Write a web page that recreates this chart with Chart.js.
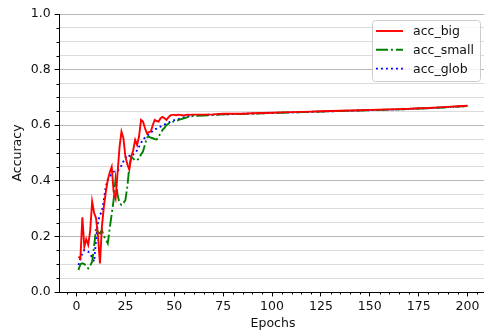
<!DOCTYPE html>
<html>
<head>
<meta charset="utf-8">
<script src="https://cdn.jsdelivr.net/npm/chart.js@4"></script>
<style>
    html, body { margin: 0; padding: 0; background: #fff; overflow: hidden; }
    canvas { display: block; }
</style>
</head>
<body>
<canvas id="accChart" width="487" height="333"></canvas>
<script>
// Accuracy per epoch
const epochs = [
    1, 2, 3, 4, 5, 6, 7, 8, 9, 10,
    11, 12, 13, 14, 15, 16, 17, 18, 19, 20,
    21, 22, 23, 24, 25, 26, 27, 28, 29, 30,
    31, 32, 33, 34, 35, 36, 37, 38, 39, 40,
    41, 42, 43, 44, 45, 46, 47, 48, 49, 50,
    51, 52, 53, 54, 55, 56, 57, 58, 59, 60,
    65, 70, 75, 80, 85, 90, 95, 100, 105, 110, 115, 120, 125, 130,
    135, 140, 145, 150, 155, 160, 165, 170, 175, 180, 185, 190, 195, 200
];

const accBig = [
    0.127, 0.120, 0.269, 0.163, 0.190, 0.170, 0.220, 0.325, 0.285, 0.265,
    0.200, 0.103, 0.235, 0.307, 0.360, 0.403, 0.430, 0.450, 0.360, 0.337,
    0.427, 0.520, 0.577, 0.553, 0.487, 0.460, 0.440, 0.487, 0.510, 0.547,
    0.529, 0.560, 0.619, 0.613, 0.590, 0.571, 0.575, 0.577, 0.600, 0.619,
    0.615, 0.613, 0.625, 0.630, 0.625, 0.619, 0.628, 0.635, 0.637, 0.637,
    0.636, 0.638, 0.637, 0.636, 0.635, 0.637, 0.638, 0.637, 0.638, 0.638,
    0.638, 0.639, 0.641, 0.641, 0.641, 0.643, 0.644, 0.645, 0.646, 0.647, 0.648, 0.649, 0.650, 0.651,
    0.652, 0.653, 0.654, 0.655, 0.656, 0.657, 0.658, 0.659, 0.661, 0.662, 0.664, 0.666, 0.668, 0.670
];

const accSmall = [
    0.079, 0.100, 0.103, 0.100, 0.095, 0.085, 0.095, 0.109, 0.163, 0.229,
    0.215, 0.211, 0.223, 0.200, 0.190, 0.175, 0.230, 0.280, 0.331, 0.409,
    0.350, 0.320, 0.313, 0.320, 0.330, 0.379, 0.450, 0.487, 0.480, 0.473,
    0.475, 0.480, 0.495, 0.505, 0.530, 0.555, 0.559, 0.555, 0.553, 0.550,
    0.549, 0.560, 0.570, 0.583, 0.590, 0.601, 0.605, 0.610, 0.612, 0.613,
    0.615, 0.618, 0.621, 0.623, 0.625, 0.627, 0.629, 0.631, 0.632, 0.633,
    0.635, 0.637, 0.639, 0.640, 0.640, 0.642, 0.643, 0.644, 0.645, 0.646, 0.647, 0.648, 0.649, 0.650,
    0.651, 0.652, 0.653, 0.654, 0.655, 0.656, 0.657, 0.658, 0.660, 0.661, 0.663, 0.665, 0.667, 0.669
];

const accGlob = [
    0.097, 0.120, 0.139, 0.151, 0.150, 0.145, 0.135, 0.125, 0.109, 0.187,
    0.253, 0.277, 0.290, 0.330, 0.380, 0.403, 0.415, 0.425, 0.433, 0.433,
    0.435, 0.445, 0.455, 0.470, 0.480, 0.493, 0.490, 0.487, 0.495, 0.500,
    0.510, 0.523, 0.535, 0.550, 0.555, 0.562, 0.567, 0.573, 0.580, 0.585,
    0.588, 0.592, 0.595, 0.598, 0.602, 0.606, 0.609, 0.612, 0.615, 0.618,
    0.620, 0.622, 0.624, 0.626, 0.628, 0.630, 0.632, 0.634, 0.636, 0.637,
    0.637, 0.638, 0.639, 0.640, 0.641, 0.642, 0.643, 0.644, 0.645, 0.646, 0.647, 0.648, 0.649, 0.650,
    0.651, 0.652, 0.653, 0.654, 0.655, 0.656, 0.657, 0.658, 0.660, 0.661, 0.663, 0.665, 0.667, 0.669
];

const seriesNames = ['acc_big', 'acc_small', 'acc_glob'];
const yTickStep = 0.05;   // minor grid, labels every 0.2
const xTickStep = 5;      // minor ticks, labels every 25

const FONT = { family: '"DejaVu Sans", sans-serif', size: 12.5 };
const MINOR_TICK = 2.5;

function toPoints(values) {
    return epochs.map((e, i) => ({ x: e, y: values[i] }));
}

function isMajorY(v) {
    return Math.round(v / yTickStep) % 4 === 0;
}

function isMajorX(v) {
    return v % 25 === 0;
}

// Short minor ticks (the library only has one tick length per axis)
const minorTicks = {
    id: 'minorTicks',
    afterDraw(chart) {
        const { ctx, scales: { x, y } } = chart;
        ctx.save();
        ctx.strokeStyle = '#000';
        ctx.lineWidth = 1;
        ctx.beginPath();
        x.ticks.forEach(t => {
            if (isMajorX(t.value)) return;
            const px = Math.round(x.getPixelForValue(t.value)) + 0.5;
            ctx.moveTo(px, x.top);
            ctx.lineTo(px, x.top + MINOR_TICK);
        });
        y.ticks.forEach(t => {
            if (isMajorY(t.value)) return;
            const py = Math.round(y.getPixelForValue(t.value)) + 0.5;
            ctx.moveTo(y.right, py);
            ctx.lineTo(y.right - MINOR_TICK, py);
        });
        ctx.stroke();
        ctx.restore();
    }
};

// Matplotlib style legend box in the upper right corner
const legendBox = {
    id: 'legendBox',
    afterDatasetsDraw(chart) {
        const { ctx, chartArea } = chart;
        const w = 108, h = 61;
        const x0 = chartArea.right - 7 - w;
        const y0 = chartArea.top + 6;

        ctx.save();
        ctx.beginPath();
        ctx.roundRect(x0 + 0.5, y0 + 0.5, w, h, 3);
        ctx.fillStyle = 'rgba(255,255,255,0.8)';
        ctx.fill();
        ctx.strokeStyle = '#cccccc';
        ctx.lineWidth = 1;
        ctx.stroke();

        ctx.font = FONT.size + 'px ' + FONT.family;
        ctx.textBaseline = 'middle';
        chart.data.datasets.forEach((ds, i) => {
            const y = y0 + 11 + i * 18.8;
            ctx.beginPath();
            ctx.setLineDash(ds.borderDash || []);
            ctx.strokeStyle = ds.borderColor;
            ctx.lineWidth = ds.borderWidth;
            ctx.moveTo(x0 + 4, y);
            ctx.lineTo(x0 + 31, y);
            ctx.stroke();
            ctx.setLineDash([]);
            ctx.fillStyle = '#111';
            ctx.fillText(ds.label, x0 + 41, y + 1);
        });
        ctx.restore();
    }
};

const ctx = document.getElementById('accChart').getContext('2d');
new Chart(ctx, {
    type: 'line',
    data: {
        datasets: [
            {
                label: seriesNames[0],
                data: toPoints(accBig),
                borderColor: '#ff0000',
                borderWidth: 1.9,
                pointRadius: 0,
                tension: 0
            },
            {
                label: seriesNames[1],
                data: toPoints(accSmall),
                borderColor: '#008000',
                borderWidth: 1.9,
                borderDash: [12, 3, 1.9, 3],
                pointRadius: 0,
                tension: 0
            },
            {
                label: seriesNames[2],
                data: toPoints(accGlob),
                borderColor: '#0000ff',
                borderWidth: 1.9,
                borderDash: [1.9, 3.1],
                pointRadius: 0,
                tension: 0
            }
        ]
    },
    options: {
        responsive: false,
        animation: false,
        layout: { padding: { left: 10, top: 14, right: 0, bottom: 2 } },
        plugins: {
            legend: { display: false },
            tooltip: { enabled: false }
        },
        scales: {
            x: {
                type: 'linear',
                min: -8.95,
                max: 209.95,
                afterFit: scale => { scale.height = 39; },
                border: { display: true, color: '#000', width: 1 },
                grid: {
                    drawOnChartArea: false,
                    drawTicks: true,
                    tickLength: 4.4,
                    tickColor: c => (isMajorX(c.tick.value) ? '#000' : 'rgba(0,0,0,0)')
                },
                ticks: {
                    stepSize: xTickStep,
                    includeBounds: false,
                    autoSkip: false,
                    maxRotation: 0,
                    padding: 3,
                    color: '#111',
                    font: FONT,
                    callback: v => (isMajorX(v) ? String(v) : '')
                },
                title: {
                    display: true,
                    text: 'Epochs',
                    color: '#111',
                    font: FONT,
                    padding: { top: 0, bottom: 0 }
                }
            },
            y: {
                min: 0,
                max: 1,
                afterFit: scale => { scale.width = 49; },
                border: { display: true, color: '#000', width: 1 },
                grid: {
                    color: c => (isMajorY(c.tick.value) ? '#b8b8b8' : '#dcdcdc'),
                    lineWidth: 1,
                    tickLength: 4.4,
                    tickColor: c => (isMajorY(c.tick.value) ? '#000' : 'rgba(0,0,0,0)')
                },
                ticks: {
                    stepSize: yTickStep,
                    autoSkip: false,
                    padding: 4,
                    color: '#111',
                    font: FONT,
                    callback: v => (isMajorY(v) ? v.toFixed(1) : '')
                },
                title: {
                    display: true,
                    text: 'Accuracy',
                    color: '#111',
                    font: FONT,
                    padding: { top: 0, bottom: 0 }
                }
            }
        }
    },
    plugins: [legendBox, minorTicks]
});
</script>
</body>
</html>
